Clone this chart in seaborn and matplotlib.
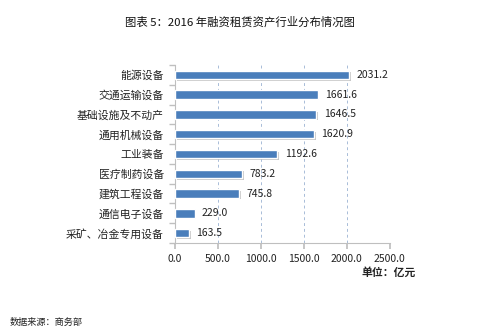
import matplotlib
matplotlib.use("Agg")
import matplotlib.pyplot as plt
import matplotlib.patheffects as pe
import seaborn as sns
import pandas as pd

categories = ["能源设备", "交通运输设备", "基础设施及不动产", "通用机械设备", "工业装备",
              "医疗制药设备", "建筑工程设备", "通信电子设备", "采矿、冶金专用设备"]
values = [2031.2, 1661.6, 1646.5, 1620.9, 1192.6, 783.2, 745.8, 229.0, 163.5]
xticks = [0, 500, 1000, 1500, 2000, 2500]
xtick_labels = ["0.0", "500.0", "1000.0", "1500.0", "2000.0", "2500.0"]

sns.set_theme(style="white")
plt.rcParams['font.family'] = ['Noto Sans CJK SC', 'DejaVu Sans']

df = pd.DataFrame({"cat": categories, "val": values})

fig = plt.figure(figsize=(4.86, 3.28), dpi=100)
ax = fig.add_axes([0.360, 0.259, 0.442, 0.543])

sns.barplot(data=df, y="cat", x="val", orient="h", color="#4a7ebb", width=0.42,
            saturation=1, ax=ax, zorder=3)
for p in ax.patches:
    p.set_path_effects([pe.SimplePatchShadow(offset=(1.2, -1.2), shadow_rgbFace="#b0b0b0", alpha=0.7),
                        pe.Normal()])

for i, v in enumerate(values):
    ax.text(v + 85, i, f"{v:.1f}", va="center", ha="left", fontsize=7.5, color="#222222")

ax.set_xlim(0, 2500)
ax.set_ylim(len(categories) - 0.5, -0.5)
ax.set_xticks(xticks)
ax.set_xticklabels(xtick_labels, fontsize=7.5, color="#222222")
ax.set_yticks(range(len(categories)))
ax.set_yticklabels(categories, fontsize=7.8, color="#222222")
ax.set_xlabel("")
ax.set_ylabel("")

# grid
for x in xticks[1:]:
    ax.axvline(x, color="#a8bcd8", linestyle=(0, (3, 3)), linewidth=0.7, zorder=1)

for s in ["top", "right"]:
    ax.spines[s].set_visible(False)
for s in ["left", "bottom"]:
    ax.spines[s].set_color("#bfbfbf")
    ax.spines[s].set_linewidth(0.8)

ax.tick_params(axis="y", length=0, pad=8)
ax.tick_params(axis="x", length=4, color="#bfbfbf", direction="out", bottom=True, pad=4)
# boundary ticks on y axis (Excel style)
ax.set_yticks([i + 0.5 for i in range(-1, len(categories))], minor=True)
ax.tick_params(axis="y", which="minor", length=4, color="#bfbfbf", direction="out", left=True)

fig.text(0.494, 0.933, "图表 5：2016 年融资租赁资产行业分布情况图", ha="center", va="center",
         fontsize=8.2, color="#111111")
fig.text(0.855, 0.168, "单位：亿元", ha="right", va="center", fontsize=7.8,
         fontweight="bold", color="#222222")
fig.text(0.02, 0.018, "数据来源：商务部", ha="left", va="center", fontsize=6.6, color="#222222")

fig.savefig("out.png", dpi=100)
